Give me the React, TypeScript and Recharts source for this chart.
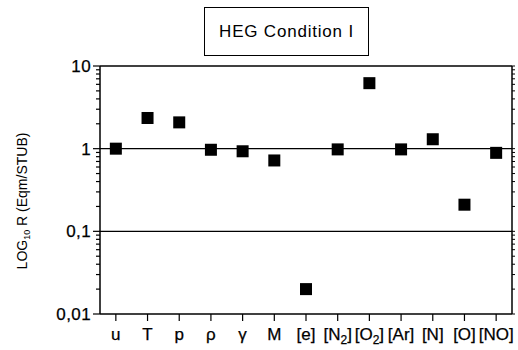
import React from 'react';
import { ScatterChart, Scatter, XAxis, YAxis, ReferenceLine } from 'recharts';

const categories = ['u', 'T', 'p', 'ρ', 'γ', 'M', '[e]', '[N2]', '[O2]', '[Ar]', '[N]', '[O]', '[NO]'];
const ratios = [1.0, 2.35, 2.08, 0.97, 0.93, 0.72, 0.02, 0.98, 6.2, 0.98, 1.3, 0.21, 0.89];
const yMajorTicks = [0.01, 0.1, 1, 10];
const yMinorFactors = [2, 3, 4, 5, 6, 7, 8, 9];
const yTickLabels = ['0,01', '0,1', '1', '10'];

const data = categories.map((name, i) => ({ name, r: ratios[i] }));
const yTicks = [
  ...yMajorTicks,
  ...yMajorTicks.slice(0, 3).flatMap((m) => yMinorFactors.map((f) => +(m * f).toPrecision(2))),
].sort((a, b) => a - b);

const FONT = 'Liberation Sans, Arial, sans-serif';

// left axis: long ticks + labels on decades, short ticks in between
const YTick = (props: any) => {
  const { x, y, payload } = props;
  const idx = yMajorTicks.indexOf(payload.value);
  const major = idx >= 0;
  return (
    <g>
      <line x1={x - (major ? 7 : 4)} x2={x} y1={y} y2={y} stroke="#000" strokeWidth={1.2} />
      {major && (
        <text x={x - 9} y={y} dy={6} textAnchor="end" fontSize={17} fontFamily={FONT} fill="#000" stroke="#000" strokeWidth={0.25} letterSpacing={0.4}>
          {yTickLabels[idx]}
        </text>
      )}
    </g>
  );
};

const RTick = (props: any) => {
  const { x, y } = props;
  return <line x1={x} x2={x + 3} y1={y} y2={y} stroke="#000" strokeWidth={1} />;
};

const XTick = (props: any) => {
  const { x, y, payload } = props;
  const m = /^(\[[A-Z]+)(\d)(\])$/.exec(payload.value);
  return (
    <text x={x} y={y} dy={15} textAnchor="middle" fontSize={17} fontFamily={FONT} fill="#000" stroke="#000" strokeWidth={0.25}>
      {m ? (
        <>
          {m[1]}
          <tspan fontSize={12} dy={4}>{m[2]}</tspan>
          <tspan dy={-4}>{m[3]}</tspan>
        </>
      ) : (
        payload.value
      )}
    </text>
  );
};

const YLabel = (props: any) => {
  const { viewBox } = props;
  const cx = viewBox.x + 22;
  const cy = viewBox.y + viewBox.height / 2 + 11;
  return (
    <text x={cx} y={cy} transform={`rotate(-90 ${cx} ${cy})`} textAnchor="middle" dy={5} fontSize={14} fontFamily={FONT} fill="#000">
      LOG
      <tspan fontSize={9} dy={3}>10</tspan>
      <tspan dy={-3}> R (Eqm/STUB)</tspan>
    </text>
  );
};

const Square = (props: any) => {
  const { cx, cy } = props;
  return <rect x={cx - 6} y={cy - 6} width={12} height={12} fill="#000" />;
};

export default function App() {
  return (
    <div style={{ position: 'fixed', left: 0, top: 0, width: 518, height: 350, background: '#fff' }}>
      <div
        style={{
          position: 'absolute',
          left: 204,
          top: 7,
          width: 163,
          height: 47,
          border: '1px solid #000',
          display: 'flex',
          alignItems: 'center',
          justifyContent: 'center',
          fontFamily: FONT,
          fontSize: 17,
          letterSpacing: 0.8,
        }}
      >
        HEG Condition I
      </div>
      <ScatterChart width={518} height={350} margin={{ top: 66, right: 0, bottom: 0, left: 0 }}>
        <XAxis
          dataKey="name"
          type="category"
          allowDuplicatedCategory={false}
          height={36}
          axisLine={{ stroke: '#000', strokeWidth: 1.5 }}
          tickLine={{ stroke: '#000', strokeWidth: 1.2 }}
          tickSize={7}
          tickMargin={4}
          interval={0}
          tick={<XTick />}
        />
        <YAxis
          dataKey="r"
          type="number"
          scale="log"
          domain={[0.01, 10]}
          allowDataOverflow
          ticks={yTicks}
          interval={0}
          width={100}
          tickSize={0}
          tickMargin={0}
          tickLine={false}
          axisLine={{ stroke: '#000', strokeWidth: 1.5 }}
          tick={<YTick />}
          label={<YLabel />}
        />
        <YAxis
          yAxisId="right"
          orientation="right"
          type="number"
          scale="log"
          domain={[0.01, 10]}
          allowDataOverflow
          ticks={yTicks}
          interval={0}
          width={6}
          tickSize={0}
          tickMargin={0}
          tickLine={false}
          tick={<RTick />}
          axisLine={{ stroke: '#000', strokeWidth: 1.5 }}
        />
        <ReferenceLine y={10} stroke="#000" strokeWidth={1.5} />
        <ReferenceLine y={1} stroke="#000" strokeWidth={1.2} />
        <ReferenceLine y={0.1} stroke="#000" strokeWidth={1.2} />
        <Scatter data={data} dataKey="r" shape={<Square />} isAnimationActive={false} />
      </ScatterChart>
    </div>
  );
}
